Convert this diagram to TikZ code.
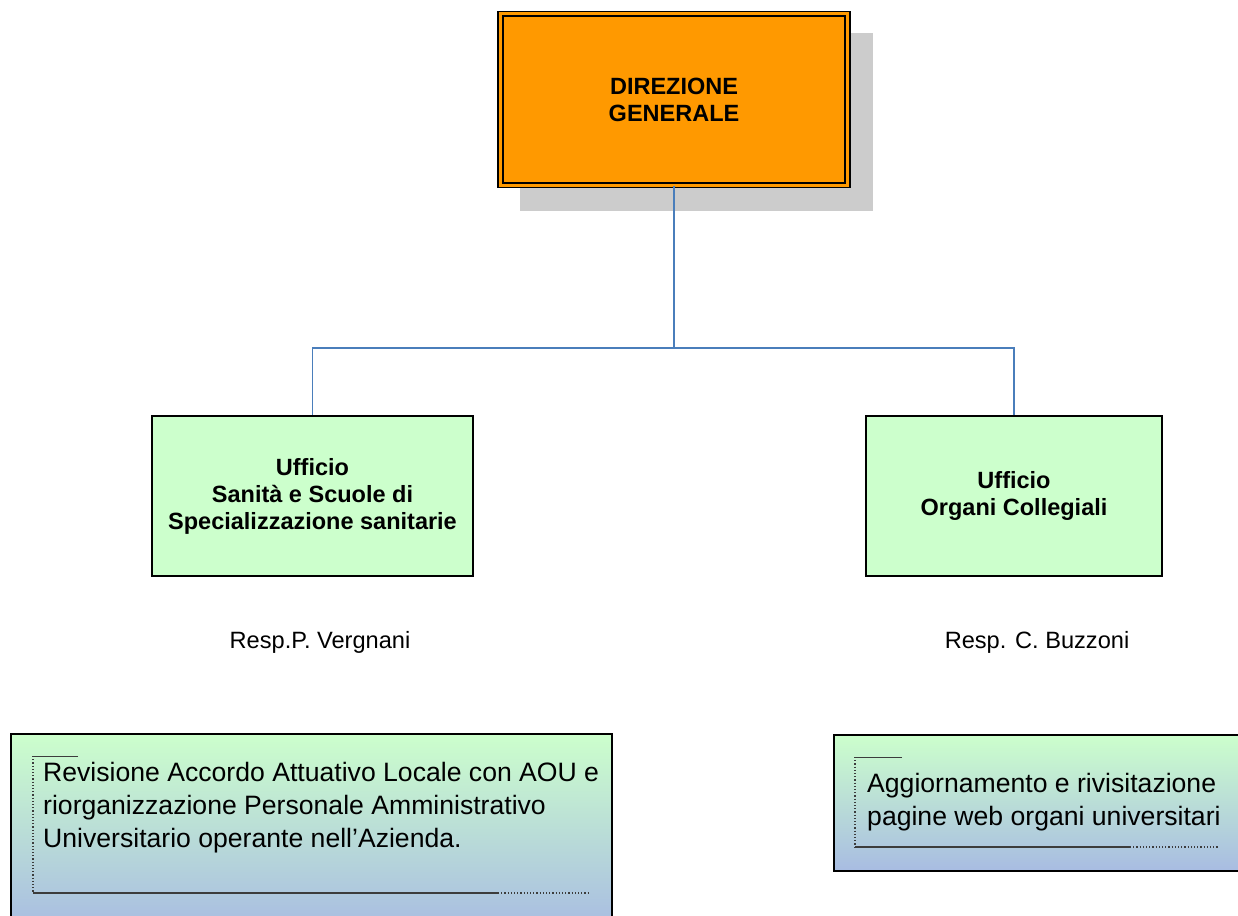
\documentclass[tikz,border=0pt]{standalone}
\usepackage{fontspec}
\setmainfont{Liberation Sans}
\definecolor{orgorange}{RGB}{255,153,0}
\definecolor{shadowgray}{RGB}{204,204,204}
\definecolor{conncol}{RGB}{74,126,187}
\definecolor{lightgreen}{RGB}{204,255,204}
\definecolor{lightblue}{RGB}{168,188,226}
\definecolor{decogray}{RGB}{60,60,60}
\begin{document}
\begin{tikzpicture}[x=1pt,y=-1pt,
  conn/.style={draw=conncol, line width=1.3pt},
  unitbox/.style={draw=black, line width=1.5pt, fill=lightgreen, minimum height=160pt,
    align=center, inner sep=0pt, font=\bfseries\fontsize{23.5}{27}\selectfont},
  respl/.style={font=\fontsize{23.6}{27}\selectfont, inner sep=0pt},
  taskbox/.style={draw=black, line width=1.5pt, top color=lightgreen, bottom color=lightblue,
    anchor=north west, inner sep=0pt},
  tasktext/.style={anchor=west, align=left, inner sep=0pt, font=\fontsize{26.6}{33}\selectfont},
  deco/.style={draw=decogray, line width=1pt},
  decodot/.style={draw=decogray, line width=1.2pt, dotted}
]
\useasboundingbox (0,0) rectangle (1238,915);

% top box with shadow
\fill[shadowgray] (520,33) rectangle (873,211);
\node[draw=black, line width=1.6pt, double=orgorange, double distance=3pt, fill=orgorange,
  minimum width=347pt, minimum height=171pt, inner sep=0pt, align=center,
  font=\bfseries\fontsize{23.5}{27}\selectfont] (dg) at (674,99.5) {DIREZIONE\\GENERALE};

% unit boxes
\node[unitbox, minimum width=321pt] (lu) at (312.5,496) {Ufficio\\Sanità e Scuole di\\Specializzazione sanitarie};
\node[unitbox, minimum width=296pt] (ru) at (1014,496) {Ufficio\\Organi Collegiali};

% connectors
\coordinate (j) at (674,348);
\draw[conn] (dg.south) -- (j);
\draw[conn] (j) -| (lu.north);
\draw[conn] (j) -| (ru.north);

% responsible labels
\node[respl] (lr) at (320,642) {Resp.P. Vergnani};
\node[respl] (rr) at (1037,642) {Resp. C. Buzzoni};

% task boxes
\node[taskbox, minimum width=601pt, minimum height=195pt] (lt) at (10,733) {};
\node[taskbox, minimum width=420pt, minimum height=136pt] (rt) at (833,734) {};

% decorations left
\draw[deco] (78,756) -- (33,756);
\draw[decodot] (33,756) -- (33,893);
\draw[deco, line width=1.4pt] (33,893) -- (498,893);
\draw[decodot] (498,893) -- (589,893);
% decorations right
\draw[deco] (902,757) -- (855,757);
\draw[decodot] (855,757) -- (855,847);
\draw[deco, line width=1.4pt] (855,847) -- (1130,847);
\draw[decodot] (1130,847) -- (1218,847);

\node[tasktext] (ltt) at (43,808) {Revisione Accordo Attuativo Locale con AOU e\\riorganizzazione Personale Amministrativo\\Universitario operante nell’Azienda.};
\node[tasktext] (rtt) at (867,802) {Aggiornamento e rivisitazione\\pagine web organi universitari};
\end{tikzpicture}
\end{document}
